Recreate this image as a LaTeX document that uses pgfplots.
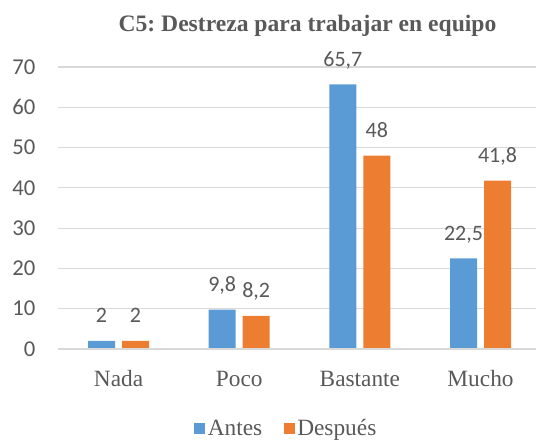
\documentclass[border=0pt]{standalone}
\usepackage{fontspec}
\setmainfont{Liberation Serif}
\newfontfamily\calibri{Carlito}
\usepackage{pgfplots}
\pgfplotsset{compat=1.18}
\definecolor{cblue}{HTML}{5B9BD5}
\definecolor{corange}{HTML}{ED7D31}
\definecolor{txt}{HTML}{595959}
\definecolor{gridc}{HTML}{D9D9D9}
\frenchspacing
\begin{document}
\begin{tikzpicture}
\path[use as bounding box] (-43.65pt,-69.75pt) rectangle (358.35pt,261.75pt);
\begin{axis}[
  at={(0,0)}, anchor=south west,
  scale only axis,
  width=362pt, height=211.5pt,
  ybar=5.25pt, bar width=20.25pt,
  xmin=-0.5, xmax=3.5,
  ymin=0, ymax=70,
  ytick={0,10,...,70},
  xtick={0,1,2,3},
  xticklabels={Nada,Poco,Bastante,Mucho},
  axis line style={draw=none},
  major tick length=0pt,
  ymajorgrids, grid style={gridc, line width=0.9pt},
  clip=false,
  /pgf/number format/assume math mode=true,
  /pgf/number format/use comma,
  yticklabel style={font=\calibri\fontsize{17pt}{18pt}\selectfont, text=txt, anchor=east, inner sep=0pt, xshift=-17pt},
  xticklabel style={font=\fontsize{17.5pt}{19pt}\selectfont, text=txt, anchor=base, inner sep=0pt, yshift=-28.5pt},
  nodes near coords,
  every node near coord/.append style={font=\calibri\fontsize{16.5pt}{18pt}\selectfont, text=txt, anchor=base, inner sep=0pt, yshift=13.5pt},
  legend style={at={(0.5,0)}, anchor=center, yshift=-59.6pt, xshift=-9.75pt, draw=none, fill=none,
    legend columns=-1, font=\fontsize{17.5pt}{19pt}\selectfont, text=txt,
    /tikz/every even column/.append style={column sep=14pt},
    /tikz/every odd column/.append style={column sep=0pt}},
  legend image code/.code={\fill[#1] (0pt,-4.15pt) rectangle (8.3pt,4.15pt);},
]
\addplot[fill=cblue, draw=none] coordinates {(0,2) (1,9.8) (2,65.7) (3,22.5)};
\addplot[fill=corange, draw=none] coordinates {(0,2) (1,8.2) (2,48) (3,41.8)};
\legend{Antes,Después}
\draw[gridc, line width=0.9pt] (rel axis cs:0,0) -- (rel axis cs:1,0);
\node[font=\bfseries\fontsize{17.7pt}{19pt}\selectfont, text=txt, anchor=base, inner sep=0pt] at ([xshift=6pt,yshift=26.25pt]rel axis cs:0.5,1) {C5: Destreza para trabajar en equipo};
\end{axis}
\end{tikzpicture}
\end{document}
